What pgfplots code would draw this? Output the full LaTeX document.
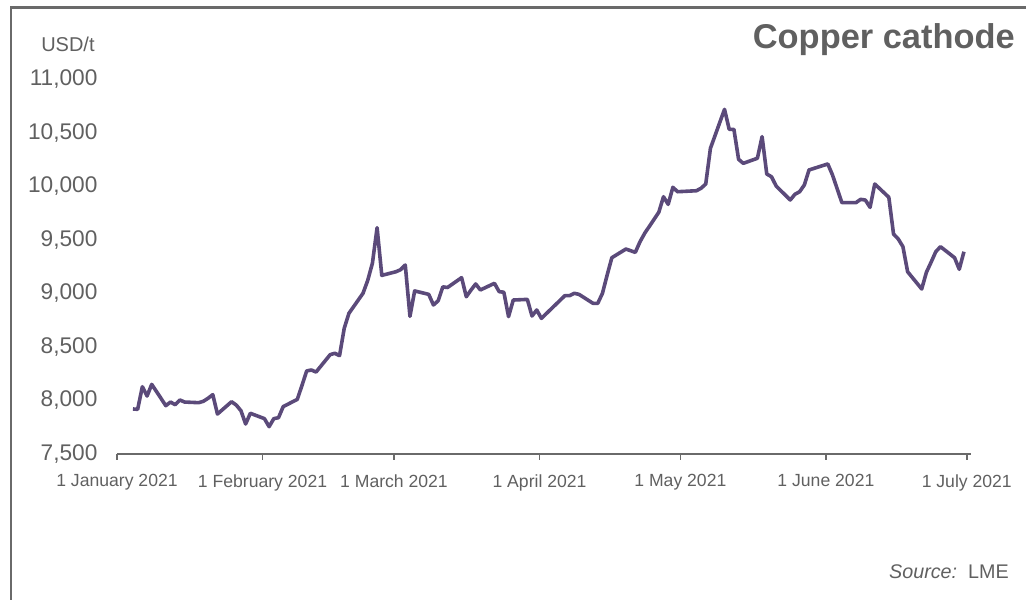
\documentclass[border=0pt]{standalone}
\usepackage{fontspec}
\setmainfont{Liberation Sans}
\usepackage{pgfplots}
\usepackage{pgfplotstable}
\pgfplotsset{compat=1.18}

\definecolor{copper}{HTML}{5B4A7A}
\definecolor{txtgray}{HTML}{606060}
\definecolor{framegray}{HTML}{6A6A6A}

% LME copper cathode, day of year 2021 (1 Jan = 0), USD/t
\pgfplotstableread{
d v
3 7920
4 7917
5 8128
6 8041
7 8150
10 7951
11 7985
12 7960
13 8004
14 7985
17 7979
18 7992
19 8020
20 8054
21 7873
24 7988
25 7957
26 7904
27 7780
28 7880
31 7830
32 7755
33 7830
34 7839
35 7942
38 8010
39 8140
40 8275
41 8284
42 8265
45 8427
46 8440
47 8418
48 8673
49 8813
52 9000
53 9120
54 9280
55 9612
56 9167
59 9201
60 9220
61 9264
62 8785
63 9022
66 8990
67 8891
68 8930
69 9060
70 9054
73 9146
74 8968
75 9030
76 9087
77 9031
80 9093
81 9015
82 9010
83 8782
84 8937
87 8943
88 8788
89 8844
90 8766
95 8978
96 8978
97 9000
98 8990
101 8906
102 8906
103 9000
104 9170
105 9332
108 9413
110 9382
111 9481
112 9560
115 9756
116 9901
117 9830
118 9989
119 9948
123 9957
124 9980
125 10020
126 10353
129 10717
130 10530
131 10530
132 10250
133 10213
136 10260
137 10462
138 10113
139 10088
140 10001
143 9871
144 9924
145 9948
146 10011
147 10151
151 10207
152 10104
153 9975
154 9846
157 9846
158 9877
159 9870
160 9802
161 10020
164 9896
165 9553
166 9507
167 9435
168 9201
171 9040
172 9196
173 9290
174 9388
175 9435
178 9332
179 9224
180 9388
}\copper

\begin{document}
\begin{tikzpicture}
\useasboundingbox (0,0) rectangle (769.5pt,450pt);
\draw[framegray, line width=1.6pt] (8.25pt,0) -- (8.25pt,444.4pt) -- (769.5pt,444.4pt);

\begin{axis}[
    at={(87.75pt,109.5pt)},
    anchor=south west,
    scale only axis,
    width=640.5pt,
    height=281.25pt,
    xmin=0, xmax=181.9,
    ymin=7500, ymax=11000,
    axis x line*=bottom,
    axis y line*=left,
    y axis line style={draw=none},
    x axis line style={framegray, line width=1.6pt},
    tick align=outside,
    major tick length=4.5pt,
    xtick style={framegray, line width=1.2pt},
    ytick style={draw=none},
    xtick={0,31,59,90,120,151,181},
    xticklabels={1 January 2021,1 February 2021,1 March 2021,1 April 2021,1 May 2021,1 June 2021,1 July 2021},
    ytick={7500,8000,...,11000},
    scaled y ticks=false,
    /pgf/number format/.cd, 1000 sep={,}, assume math mode=true,
    /pgfplots/.cd,
    x tick label style={font=\fontsize{13.2}{13.2}\selectfont, text=txtgray, inner sep=0pt, anchor=north, yshift=-10.5pt},
    y tick label style={font=\fontsize{17}{17}\selectfont, text=txtgray, inner sep=0pt, anchor=east, xshift=-10pt},
]
\addplot[copper, line width=2.7pt, line join=round, no markers] table[x expr=\thisrow{d}+0.4, y=v] {\copper};
\end{axis}

\node[anchor=base west, text=txtgray, inner sep=0pt, font=\fontsize{15}{15}\selectfont] at (30.75pt,411pt) {USD/t};
\node[anchor=base east, text=txtgray, inner sep=0pt, font=\fontsize{25.8}{25.8}\selectfont\bfseries] at (761.25pt,413.25pt) {Copper cathode};
\node[anchor=base east, text=txtgray, inner sep=0pt, font=\fontsize{14.8}{14.8}\selectfont] at (756.75pt,15.75pt) {\textit{Source:}\ \ LME};
\end{tikzpicture}
\end{document}
